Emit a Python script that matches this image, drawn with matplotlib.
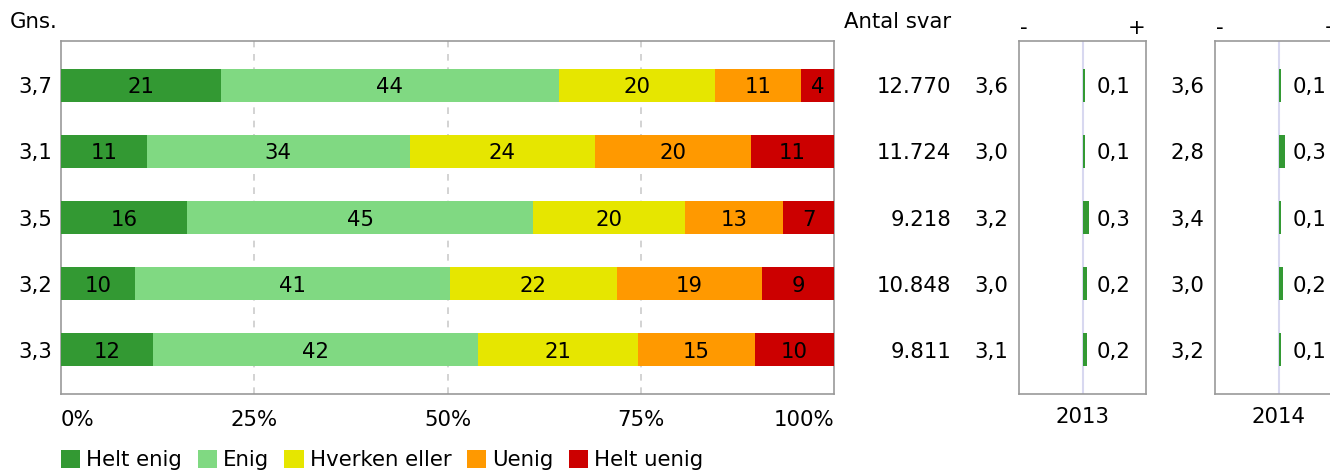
import matplotlib
matplotlib.use("Agg")
import matplotlib.pyplot as plt
from matplotlib.patches import Patch

plt.rcParams['font.family'] = ['DejaVu Sans']

# ---- data ----
gns = [3.7, 3.1, 3.5, 3.2, 3.3]
helt_enig = [20.7, 11.1, 16.3, 9.6, 11.9]
enig = [43.7, 34.0, 44.8, 40.7, 42.0]
hverken = [20.2, 24.0, 19.6, 21.6, 20.7]
uenig = [11.1, 20.2, 12.7, 18.8, 15.2]
helt_uenig = [4.3, 10.7, 6.7, 9.3, 10.2]
antal = [12770, 11724, 9218, 10848, 9811]
gns_2013 = [3.6, 3.0, 3.2, 3.0, 3.1]
diff_2013 = [0.1, 0.1, 0.3, 0.2, 0.2]
gns_2014 = [3.6, 2.8, 3.4, 3.0, 3.2]
diff_2014 = [0.1, 0.3, 0.1, 0.2, 0.1]
series_names = ["Helt enig", "Enig", "Hverken eller", "Uenig", "Helt uenig"]
colors = ["#339933", "#80D982", "#E6E600", "#FF9900", "#CC0000"]
xticks = [0, 25, 50, 75, 100]
xticklabels = ["0%", "25%", "50%", "75%", "100%"]
years = ["2013", "2014"]

FS = 15.3
DY = -2  # pixel offset for vertical centering of texts
W, H = 1330, 471
fig = plt.figure(figsize=(W / 100, H / 100), dpi=100)

def fx(px):
    return px / W

def fy(py):
    return 1 - py / H

def comma(v):
    return f"{v:.1f}".replace(".", ",")

def thousands(v):
    return f"{v:,}".replace(",", ".")

n = len(gns)
ypos = list(range(n))
ylim = (n - 1 + 0.67, -0.67)

# ---- main stacked bar chart ----
ax = fig.add_axes([fx(61), fy(394), fx(834 - 61), (394 - 41) / H])
left = [0.0] * n
for vals, c in zip([helt_enig, enig, hverken, uenig, helt_uenig], colors):
    ax.barh(ypos, vals, left=left, height=0.5, color=c, zorder=3)
    for i, v in enumerate(vals):
        ax.annotate(f"{round(v):d}", xy=(left[i] + v / 2, i), xytext=(0, DY),
                    textcoords="offset pixels", ha="center", va="center",
                    fontsize=FS, color="black", zorder=4)
    left = [l + v for l, v in zip(left, vals)]
ax.set_xlim(0, 100)
ax.set_ylim(*ylim)
for t in xticks[1:-1]:
    ax.axvline(t, color="#cccccc", linestyle=(0, (4, 4)), linewidth=1.2, zorder=1)
ax.set_xticks([])
ax.set_yticks([])
for s in ax.spines.values():
    s.set_color("#999999")
    s.set_linewidth(1.2)

# x tick labels below the axes
for t, lab in zip(xticks, xticklabels):
    ha = "left" if t == 0 else ("right" if t == 100 else "center")
    ax.text(t, -(420 - 394) / (394 - 41), lab, transform=ax.get_xaxis_transform(),
            ha=ha, va="center", fontsize=FS)

# Gns labels
for i, g in enumerate(gns):
    ax.annotate(comma(g), xy=(0, i), xycoords=("axes fraction", "data"),
                xytext=(-9, DY), textcoords="offset pixels", ha="right", va="center",
                fontsize=FS)
fig.text(fx(10), fy(22), "Gns.", ha="left", va="center", fontsize=FS)

# Antal svar
fig.text(fx(844), fy(22), "Antal svar", ha="left", va="center", fontsize=FS)
for i, a in enumerate(antal):
    ax.annotate(thousands(a), xy=(1, i), xycoords=("axes fraction", "data"),
                xytext=(951 - 834, DY), textcoords="offset pixels", ha="right",
                va="center", fontsize=FS)

# ---- year panels ----
def panel(x0, prev, diff, year):
    pax = fig.add_axes([fx(x0), fy(394), fx(127), (394 - 41) / H])
    pax.set_xlim(-3.0, 3.0)
    pax.set_ylim(*ylim)
    pax.axvline(0, color="#D8D8F0", linewidth=1.5, zorder=1)
    pax.barh(ypos, diff, left=0, height=0.5, color="#339933", linewidth=0, zorder=3)
    pax.set_xticks([])
    pax.set_yticks([])
    for s in pax.spines.values():
        s.set_color("#999999")
        s.set_linewidth(1.2)
    for i, (p, d) in enumerate(zip(prev, diff)):
        pax.annotate(comma(p), xy=(0, i), xycoords=("axes fraction", "data"),
                     xytext=(-11, DY), textcoords="offset pixels", ha="right",
                     va="center", fontsize=FS)
        pax.annotate(comma(d), xy=(0, i), xycoords="data",
                     xytext=(14, DY), textcoords="offset pixels", ha="left",
                     va="center", fontsize=FS)
    fig.text(fx(x0 + 5), fy(28), "-", ha="center", va="center", fontsize=FS)
    fig.text(fx(x0 + 118), fy(28), "+", ha="center", va="center", fontsize=FS)
    fig.text(fx(x0 + 63.5), fy(417), year, ha="center", va="center", fontsize=FS)

panel(1019, gns_2013, diff_2013, years[0])
panel(1215, gns_2014, diff_2014, years[1])

# ---- legend ----
handles = [Patch(facecolor=c, edgecolor="none") for c in colors]
fig.legend(handles, series_names, loc="center left",
           bbox_to_anchor=(fx(61), fy(460)), ncol=5, frameon=False,
           fontsize=FS, handlelength=0.9, handleheight=0.9, handletextpad=0.3,
           columnspacing=0.72, borderaxespad=0, borderpad=0)

fig.savefig("out.png", dpi=100)
